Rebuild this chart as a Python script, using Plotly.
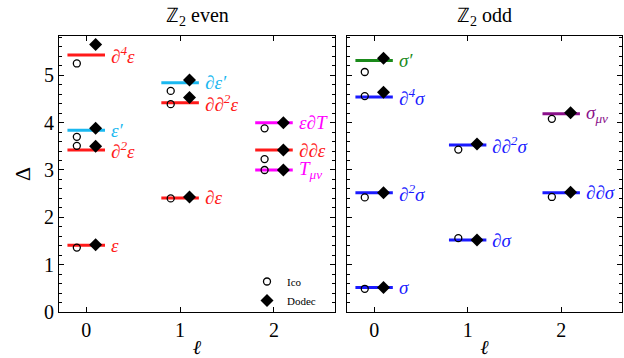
import plotly.graph_objects as go

# ---- Z2 even ----
ops_even = ["ε", "∂ε", "∂<sup>2</sup>ε", "ε′", "∂<sup>4</sup>ε", "∂ε′", "∂∂<sup>2</sup>ε", "T<sub>μν</sub>", "∂∂ε", "ε∂T"]
ell_even = [0, 1, 0, 0, 0, 1, 1, 2, 2, 2]
delta_even = [1.41, 2.41, 3.42, 3.84, 5.43, 4.84, 4.42, 3.00, 3.42, 4.00]
ico_even = [1.36, 2.40, 3.51, 3.70, 5.25, 4.67, 4.39, 3.00, 3.23, 3.88]
dodec_even = [1.42, 2.43, 3.50, 3.88, 5.65, 4.90, 4.53, 3.00, 3.42, 4.00]
color_even = ["#ff1a1a", "#ff1a1a", "#ff1a1a", "#1ab8f0", "#ff1a1a", "#1ab8f0", "#ff1a1a", "#ff00ff", "#ff1a1a", "#ff00ff"]

# ---- Z2 odd ----
ops_odd = ["σ", "∂σ", "∂<sup>2</sup>σ", "∂∂σ", "∂∂<sup>2</sup>σ", "σ<sub>μν</sub>", "∂<sup>4</sup>σ", "σ′"]
ell_odd = [0, 1, 0, 2, 1, 2, 0, 0]
delta_odd = [0.52, 1.52, 2.52, 2.52, 3.53, 4.19, 4.54, 5.31]
ico_odd = [0.49, 1.56, 2.42, 2.43, 3.43, 4.08, 4.56, 5.07]
dodec_odd = [0.52, 1.52, 2.52, 2.53, 3.55, 4.21, 4.64, 5.36]
color_odd = ["#1a1aff", "#1a1aff", "#1a1aff", "#1a1aff", "#1a1aff", "#8a108a", "#1a1aff", "#1a8a1a"]

x_ticks = [0, 1, 2]
half_width = 0.2
offset = 0.1

FONT = "Liberation Serif, Times New Roman, serif"

fig = go.Figure()
annotations = []

def add_panel(ops, ell, delta, ico, dodec, colors, xa, ya, show_legend):
    for o, l, d, c in zip(ops, ell, delta, colors):
        fig.add_trace(go.Scatter(x=[l - half_width, l + half_width], y=[d, d], mode="lines",
                                 line=dict(color=c, width=3), showlegend=False,
                                 hoverinfo="skip", xaxis=xa, yaxis=ya))
        annotations.append(dict(x=l + 0.24, y=d, xref=xa, yref=ya, text="<i>" + o + "</i>",
                                showarrow=False, xanchor="left", yanchor="middle",
                                font=dict(family=FONT, size=19, color=c)))
    fig.add_trace(go.Scatter(x=[l - offset for l in ell], y=ico, mode="markers", name="Ico",
                             marker=dict(symbol="circle-open", size=7, color="black",
                                         line=dict(width=1.3, color="black")),
                             showlegend=show_legend, xaxis=xa, yaxis=ya))
    fig.add_trace(go.Scatter(x=[l + offset for l in ell], y=dodec, mode="markers", name="Dodec",
                             marker=dict(symbol="diamond", size=10, color="black"),
                             showlegend=show_legend, xaxis=xa, yaxis=ya))

add_panel(ops_even, ell_even, delta_even, ico_even, dodec_even, color_even, "x", "y", True)
add_panel(ops_odd, ell_odd, delta_odd, ico_odd, dodec_odd, color_odd, "x2", "y2", False)

# panel titles
annotations.append(dict(x=0.5, y=1.0, xref="x domain", yref="y domain", yshift=5,
                        text="ℤ<sub>2</sub> even", showarrow=False, xanchor="center", yanchor="bottom",
                        font=dict(family=FONT, size=20, color="black")))
annotations.append(dict(x=0.5, y=1.0, xref="x2 domain", yref="y2 domain", yshift=5,
                        text="ℤ<sub>2</sub> odd", showarrow=False, xanchor="center", yanchor="bottom",
                        font=dict(family=FONT, size=20, color="black")))

ydom = [46 / 358, 322 / 358]
axis_common = dict(showline=True, linecolor="black", linewidth=1.2, mirror="allticks",
                   ticks="inside", tickcolor="black", showgrid=False, zeroline=False,
                   automargin=False,
                   tickfont=dict(family=FONT, size=20, color="black"))

xrange = [-0.29, 2.65]
yrange = [0, 5.83]

fig.update_layout(
    width=624, height=358,
    margin=dict(l=0, r=0, t=0, b=0),
    paper_bgcolor="white", plot_bgcolor="white",
    xaxis=dict(domain=[59 / 624, 335 / 624], range=xrange, tickvals=x_ticks, ticklen=5,
               title=dict(text="<i>ℓ</i>", font=dict(family=FONT, size=20, color="black"), standoff=4),
               **axis_common),
    xaxis2=dict(domain=[347 / 624, 622 / 624], range=xrange, tickvals=x_ticks, ticklen=5,
                anchor="y2",
                title=dict(text="<i>ℓ</i>", font=dict(family=FONT, size=20, color="black"), standoff=4),
                **axis_common),
    yaxis=dict(domain=ydom, range=yrange, tickvals=[0, 1, 2, 3, 4, 5], ticklen=5,
               minor=dict(dtick=0.2, ticks="inside", ticklen=3, tickcolor="black"),
               title=dict(text="Δ", font=dict(family=FONT, size=22, color="black"), standoff=7),
               **axis_common),
    yaxis2=dict(domain=ydom, range=yrange, tickvals=[0, 1, 2, 3, 4, 5], ticklen=5, anchor="x2",
                showticklabels=False,
                minor=dict(dtick=0.2, ticks="inside", ticklen=3, tickcolor="black"),
                **axis_common),
    legend=dict(x=247 / 624, y=(358 - 267) / 358, xanchor="left", yanchor="top",
                bgcolor="rgba(0,0,0,0)", font=dict(family=FONT, size=11, color="black"),
                tracegroupgap=0),
    annotations=annotations,
    showlegend=True,
)

fig.write_html("out.html", config={"displayModeBar": False},
               post_script="document.body.style.margin='0';document.body.style.padding='0';")
